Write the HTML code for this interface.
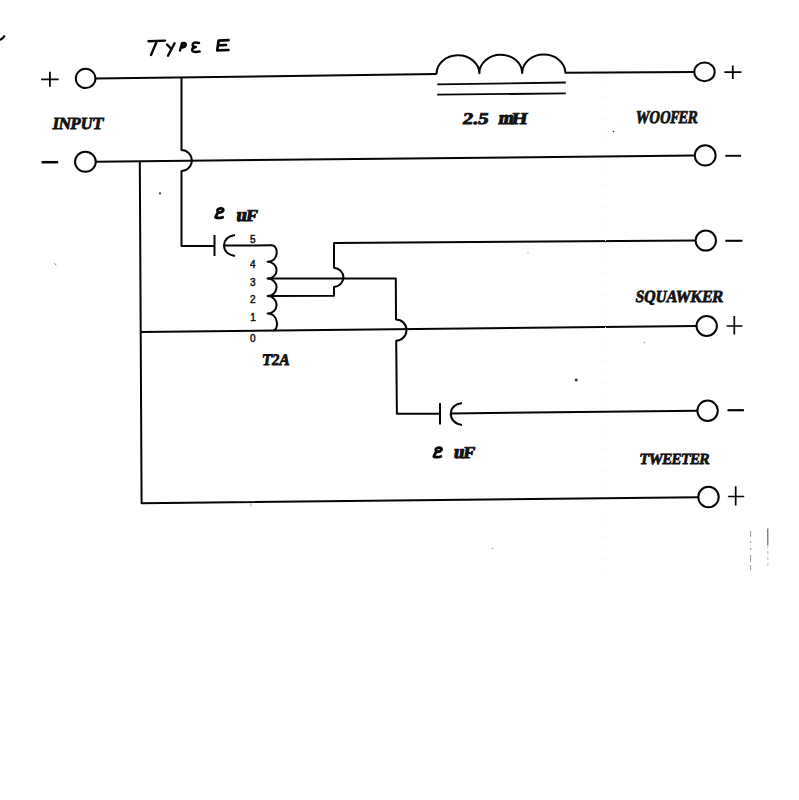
<!DOCTYPE html>
<html><head><meta charset="utf-8">
<style>
html,body{margin:0;padding:0;background:#fff;}
body{width:799px;height:800px;overflow:hidden;position:relative;}
svg{position:absolute;left:0;top:0;}
.lb{font-family:"Liberation Serif",serif;font-weight:bold;fill:#111;stroke:#111;stroke-width:0.8;}
.nm{font-family:"Liberation Sans",sans-serif;font-weight:normal;fill:#111;stroke:#111;stroke-width:0.45;}
</style></head><body>
<svg width="799" height="800" viewBox="0 0 799 800">
<g fill="none" stroke="#050505" stroke-width="2" stroke-linejoin="round" stroke-linecap="butt">
<!-- check mark -->
<path d="M0 40 Q3 38.5 4.8 35.5" stroke-width="2.2"/>
<!-- input + -->
<ellipse cx="85.6" cy="78.4" rx="9.8" ry="9.6"/>
<path d="M41.1 79.3 H58.7 M49.9 71.8 V86.7" stroke-width="1.8"/>
<path d="M95.4 78.6 L436.6 74.1"/>
<!-- inductor -->
<path d="M436.6 74.1 A21.4 18.3 0 0 1 479.4 73.2 A21.4 18.3 0 0 1 522.2 73 A21.6 18.3 0 0 1 565.4 72.8 L693.7 72"/>
<path d="M437.2 84.4 L565.8 82.5 M437.2 94.7 L565.8 93.4" stroke-width="1.8"/>
<ellipse cx="704.5" cy="71.9" rx="10.2" ry="9.3"/>
<path d="M724.4 72.1 H741.5 M732.8 65.5 V79.1" stroke-width="1.8"/>
<!-- input - -->
<ellipse cx="85.4" cy="161.8" rx="10.4" ry="10"/>
<path d="M41.6 162.2 H58.2" stroke-width="2.5"/>
<path d="M95.8 161.7 L694.8 155.5"/>
<ellipse cx="705.2" cy="155.4" rx="10.4" ry="10.2"/>
<path d="M725.3 155.8 H741.1" stroke-width="1.9"/>
<!-- left vertical and bottom wire -->
<path d="M139.8 161 L141.6 503.25 L698.3 497.2"/>
<ellipse cx="708.5" cy="497" rx="10.2" ry="10.2"/>
<path d="M727.9 496.5 H744.2 M735.7 486.2 V505.5" stroke-width="1.7"/>
<!-- vertical from + wire with hop -->
<path d="M181.5 77.7 V150 A10.3 10.5 0 0 1 181.5 171 V246 H214.5"/>
<path d="M214.5 235 V256"/>
<path d="M235 235 Q224 237 224 245.5 Q224 254 235 256"/>
<path d="M224 245.6 L272 245.3"/>
<!-- coil -->
<path d="M271.5 245.3 C279 245.3 279 261.8 267.6 261.8 A9 8.4 0 0 1 267.6 278.6 A9 8.75 0 0 1 267.6 296.1 A9 8.75 0 0 1 267.6 313.6 C279 313.6 279 330.5 273 330.5"/>
<!-- tap 0 wire -->
<path d="M140.4 332 L696.5 326"/>
<ellipse cx="706.7" cy="326" rx="10.2" ry="10"/>
<path d="M726.6 326 H742.4 M734.3 316 V334.4" stroke-width="1.7"/>
<!-- tap 3 -->
<path d="M267.6 278.6 L395.8 278.6 L396 319.5 A10.4 10.6 0 0 1 396.2 340.7 L396.9 413.75 H440"/>
<path d="M440 403 V424.5"/>
<path d="M462 403 Q450.75 405 450.75 413.5 Q450.75 423 462 425"/>
<path d="M450.75 413.5 L697.4 410.8"/>
<ellipse cx="707.6" cy="410.8" rx="10.2" ry="10.2"/>
<path d="M727.5 410.2 H743.9" stroke-width="2.2"/>
<!-- tap 2 and squawker - -->
<path d="M267.6 296.1 L334 295.7 V287 A10.5 9.7 0 0 0 334 267.7 V243 L695.6 240.6"/>
<ellipse cx="705.8" cy="240.6" rx="10.2" ry="10"/>
<path d="M725.3 240.8 H742.4" stroke-width="2.1"/>
<!-- Type E handwriting -->
<g stroke-width="2.4" stroke-linecap="round">
<path d="M148.5 41.2 L165 40.6 M157 41 L151 55"/>
<path d="M167 44.5 L171.5 49.2 M174.6 43.2 L168 55.8"/>
<path d="M180 50.5 L182 43.2 Q186.8 42.2 185.6 45.6 Q184.5 48 181.2 47.6" fill="#111"/>
<path d="M199 43 Q192.8 41.6 192.6 44.8 Q192.6 46.8 195.8 47 Q191.8 47.6 192.2 50.4 Q193.2 52.6 199.6 51.6" stroke-width="2.5"/>
<path d="M228.5 40.2 L218.6 40.6 L217.2 50.4 L228.4 50 M217.9 45.3 L226 45" stroke-width="2.7"/>
</g>
<!-- faint lines -->
<path d="M605.5 85 V572" stroke="#ececec" stroke-width="1" stroke-dasharray="2 9"/>
<path d="M750.6 531 V537 M750.6 541 V543 M750.6 548 V550 M750.6 555 V562 M750.6 565 V570" stroke="#999" stroke-width="1"/>
<path d="M767.8 528.6 V545" stroke="#666" stroke-width="1.2"/>
<path d="M767.8 545 V569" stroke="#bbb" stroke-width="1" stroke-dasharray="3 3"/>
</g>
<!-- labels -->
<g>
<text class="lb" transform="translate(52,128.8) skewX(-9)" font-size="17" textLength="50.5" lengthAdjust="spacingAndGlyphs">INPUT</text>
<text class="lb" transform="translate(635,123) skewX(-9)" font-size="18" textLength="62" lengthAdjust="spacingAndGlyphs">WOOFER</text>
<text class="lb" transform="translate(635,301.5) skewX(-9)" font-size="17" textLength="87.5" lengthAdjust="spacingAndGlyphs">SQUAWKER</text>
<text class="lb" transform="translate(639,464.3) skewX(-9)" font-size="15.5" textLength="70" lengthAdjust="spacingAndGlyphs">TWEETER</text>
<text class="lb" transform="translate(462,123.7) skewX(-9)" font-size="16.5" textLength="26" lengthAdjust="spacingAndGlyphs">2.5</text>
<text class="lb" transform="translate(498,123.7) skewX(-9) scale(1,1.45)" font-size="13" textLength="15" lengthAdjust="spacingAndGlyphs">m</text>
<text class="lb" transform="translate(511,123.7) skewX(-9)" font-size="16.5" textLength="15.5" lengthAdjust="spacingAndGlyphs">H</text>
<path d="M217.8 211.8 Q216.6 209.4 219.6 208.6 Q223 207.8 223.3 209.9 Q223.2 212 219.4 212.6 Q218 212.8 217.8 211.8 M217.9 212.5 Q216.5 215 215.5 217.4 Q218.5 218.5 222.6 217.3" fill="none" stroke="#050505" stroke-width="2.8" stroke-linecap="round" stroke-linejoin="round"/>
<text class="lb" transform="translate(235.8,221) skewX(-9) scale(1,1.45)" font-size="13" textLength="10.5" lengthAdjust="spacingAndGlyphs">u</text>
<text class="lb" transform="translate(245.5,221) skewX(-9)" font-size="16.5" textLength="11.4" lengthAdjust="spacingAndGlyphs">F</text>
<g transform="translate(218.3,239.2)"><path d="M217.8 211.8 Q216.6 209.4 219.6 208.6 Q223 207.8 223.3 209.9 Q223.2 212 219.4 212.6 Q218 212.8 217.8 211.8 M217.9 212.5 Q216.5 215 215.5 217.4 Q218.5 218.5 222.6 217.3" fill="none" stroke="#050505" stroke-width="2.8" stroke-linecap="round" stroke-linejoin="round"/></g>
<text class="lb" transform="translate(453.2,457.9) skewX(-9) scale(1,1.45)" font-size="13" textLength="10.5" lengthAdjust="spacingAndGlyphs">u</text>
<text class="lb" transform="translate(462.8,457.9) skewX(-9)" font-size="16.5" textLength="11.4" lengthAdjust="spacingAndGlyphs">F</text>
<text class="lb" transform="translate(261.5,364.8) skewX(-9)" font-size="16" textLength="27.5" lengthAdjust="spacingAndGlyphs">T2A</text>
<text class="nm" x="250" y="243" font-size="10">5</text>
<text class="nm" x="250" y="268" font-size="10">4</text>
<text class="nm" x="250" y="285.5" font-size="10">3</text>
<text class="nm" x="250" y="303" font-size="10">2</text>
<text class="nm" x="250.3" y="321" font-size="10">1</text>
<text class="nm" x="250" y="342" font-size="10">0</text>
</g>
<g fill="#333">
<circle cx="576.2" cy="380" r="1.5"/>
<circle cx="160" cy="193.3" r="1.1"/>
<circle cx="613.5" cy="131.5" r="0.8"/>
<circle cx="644.5" cy="342.5" r="0.7" fill="#888"/>
<circle cx="492.5" cy="548.5" r="0.7" fill="#999"/>
<circle cx="528" cy="253" r="0.7" fill="#aaa"/>
<path d="M250.8 503.5 V506.5" stroke="#999" stroke-width="0.8"/>
<path d="M54 263 L56.5 265.5" stroke="#777" stroke-width="0.8"/>
</g>
</svg>
</body></html>
